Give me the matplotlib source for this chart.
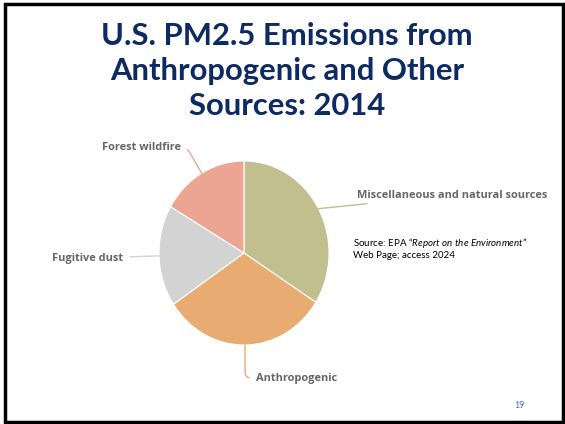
import matplotlib
matplotlib.use("Agg")
import matplotlib.pyplot as plt
import numpy as np
from matplotlib.patches import Rectangle

# EPA ROE, U.S. PM2.5 emissions 2014 (share of total, %)
sources = ["Miscellaneous and natural sources", "Anthropogenic", "Fugitive dust", "Forest wildfire"]
shares = [34.0, 31.6, 17.8, 16.6]
colors = ["#C1BF8E", "#E8AB72", "#D3D3D3", "#EBA592"]

title = "U.S. PM2.5 Emissions from\nAnthropogenic and Other\nSources: 2014"
source_note = "Source: EPA \u201c$\\mathit{Report\\ on\\ the\\ Environment}$\u201d\nWeb Page; access 2024"
page_no = "19"

W, H = 565, 424
plt.rcParams["mathtext.fontset"] = "custom"
plt.rcParams["mathtext.it"] = "Lato:italic"
plt.rcParams["mathtext.rm"] = "Lato"

fig = plt.figure(figsize=(W / 100, H / 100), dpi=100)
fig.patch.set_facecolor("white")

def px(x, y):
    # image pixel (top-down) -> figure fraction
    return x / W, 1 - y / H

# slide frame
fig.patches.append(Rectangle(px(5, 422), 558 / W, 418 / H, transform=fig.transFigure,
                             fill=False, edgecolor="black", linewidth=2.5))

# title
fig.text(px(287, 71)[0], px(287, 71)[1], title, ha="center", va="center",
         fontsize=22.3, fontweight="bold", family="Lato", color="#0D2A63", linespacing=1.3)

# pie, slightly stretched vertically like the slide
cx, cy, rx, ry = 244, 253, 85, 92
ax = fig.add_axes([(cx - rx) / W, (H - cy - ry) / H, 2 * rx / W, 2 * ry / H])
wedges, _ = ax.pie(shares, colors=colors, startangle=90, counterclock=False, radius=1,
                   wedgeprops=dict(edgecolor="white", linewidth=0.8))
ax.set_aspect("auto")
ax.set_xlim(-1, 1)
ax.set_ylim(-1, 1)
ax.axis("off")

# labels with connectors from the wedge middles
label_pos = {
    "Miscellaneous and natural sources": ((357, 195), "left", "arc3,rad=0.0"),
    "Anthropogenic": ((256, 378), "left", "angle,angleA=0,angleB=-90,rad=6"),
    "Fugitive dust": ((123, 258), "right", "arc3,rad=0.0"),
    "Forest wildfire": ((181, 147), "right", "angle,angleA=180,angleB=-60,rad=6"),
}
for w, name in zip(wedges, sources):
    mid = np.deg2rad((w.theta1 + w.theta2) / 2)
    ex, ey = np.cos(mid), np.sin(mid)
    (lx, ly), ha, cs = label_pos[name]
    ax.annotate(name, xy=(ex, ey), xycoords="data",
                xytext=(lx, H - ly), textcoords="figure pixels",
                ha=ha, va="center", fontsize=7.9, fontweight="bold", family="Open Sans",
                color="#666666", annotation_clip=False,
                arrowprops=dict(arrowstyle="-", color=w.get_facecolor(), lw=1.0,
                                shrinkA=3, shrinkB=0, connectionstyle=cs))

fig.text(353 / W, 1 - 248 / H, source_note, ha="left", va="center", fontsize=7,
         family="Lato", color="black", linespacing=1.15)
fig.text(519 / W, 1 - 406 / H, page_no, ha="center", va="center", fontsize=6.3,
         family="Lato", color="#4466CC")

fig.savefig("out.png", dpi=100, facecolor="white")
